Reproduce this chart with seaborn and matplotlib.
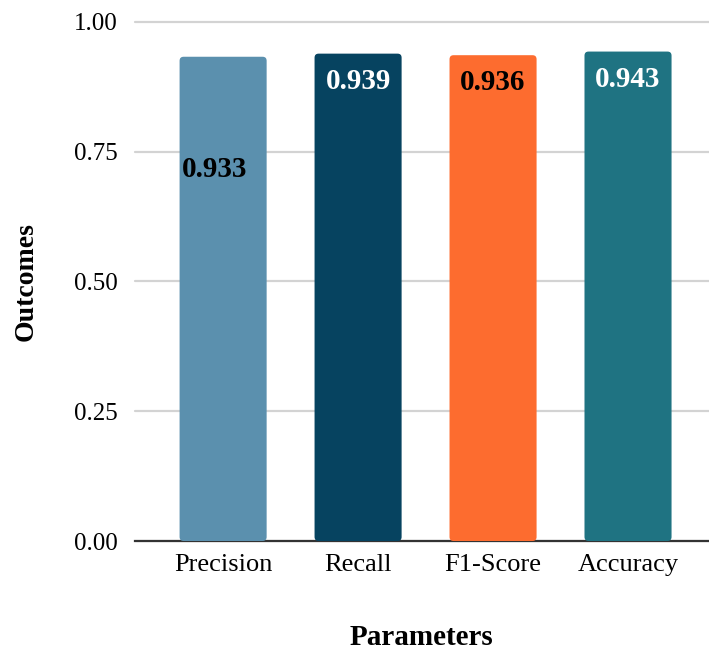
import matplotlib
matplotlib.use("Agg")
import matplotlib.pyplot as plt
from matplotlib.patches import FancyBboxPatch
import seaborn as sns
import pandas as pd

# Evaluation metrics of the model
categories = ["Precision", "Recall", "F1-Score", "Accuracy"]
scores = [0.933, 0.939, 0.936, 0.943]
bar_colors = ["#5b90ae", "#064360", "#fd6c2f", "#1f7382"]
label_colors = ["black", "white", "black", "white"]
y_ticks = [0.00, 0.25, 0.50, 0.75, 1.00]

df = pd.DataFrame({"Parameter": categories, "Score": scores})

sns.set_theme(style="white")
plt.rcParams["font.family"] = ["Liberation Serif", "DejaVu Serif"]
plt.rcParams["text.color"] = "black"
plt.rcParams["axes.labelcolor"] = "black"
plt.rcParams["xtick.color"] = "black"
plt.rcParams["ytick.color"] = "black"

fig = plt.figure(figsize=(7.09, 6.56), dpi=100)
ax = fig.add_axes([0.19, 0.1753, 0.81, 0.7912])

sns.barplot(data=df, x="Parameter", y="Score", hue="Parameter",
            palette=bar_colors, width=0.645, legend=False, ax=ax,
            saturation=1, zorder=3)

# soften the top corners of each bar
for patch in list(ax.patches):
    x0, y0 = patch.get_x(), patch.get_y()
    w, h = patch.get_width(), patch.get_height()
    fc = patch.get_facecolor()
    patch.remove()
    rounded = FancyBboxPatch((x0, y0), w, h,
                             boxstyle="round,pad=0,rounding_size=0.03",
                             mutation_aspect=0.26, facecolor=fc,
                             edgecolor="none", zorder=3)
    ax.add_patch(rounded)

# value labels inside the bars
for i, (v, c) in enumerate(zip(scores, label_colors)):
    y = v - 0.218 if i == 0 else v - 0.053
    dx = -0.06 if i == 0 else 0.0
    ax.text(i + dx, y, f"{v:.3f}", ha="center", va="center",
            fontsize=21, fontweight="bold", color=c, zorder=4)

ax.set_ylim(0, 1.0)
ax.set_xlim(-0.655, 3.6)
ax.set_yticks(y_ticks)
ax.set_yticklabels([f"{t:.2f}" for t in y_ticks], fontsize=18)
ax.tick_params(axis="x", labelsize=19, length=0, pad=9)
ax.tick_params(axis="y", length=0, pad=12)
ax.yaxis.grid(True, color="#d3d3d3", linewidth=1.6, zorder=0)
ax.set_axisbelow(True)
for tl in ax.get_ygridlines():
    tl.set_clip_on(False)

for side in ["top", "right", "left"]:
    ax.spines[side].set_visible(False)
ax.spines["bottom"].set_color("#333333")
ax.spines["bottom"].set_linewidth(1.6)

ax.set_xlabel("Parameters", fontsize=21, fontweight="bold", labelpad=35)
ax.set_ylabel("Outcomes", fontsize=20, fontweight="bold", labelpad=26)

fig.savefig("out.png", dpi=100)
